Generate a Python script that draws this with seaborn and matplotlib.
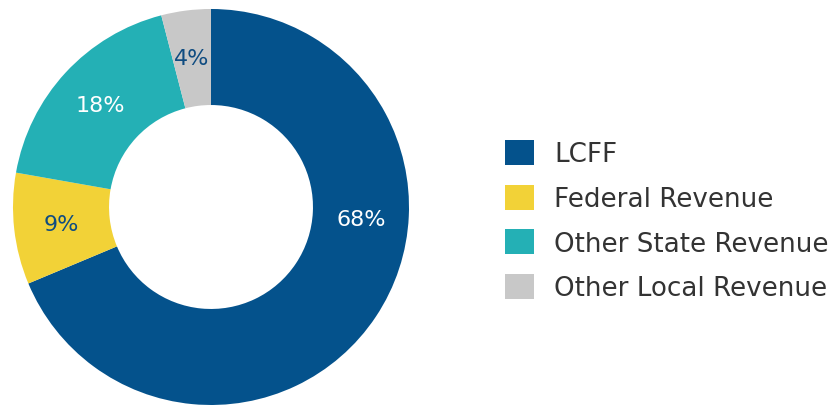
import numpy as np
import matplotlib
matplotlib.use("Agg")
import matplotlib.pyplot as plt
import seaborn as sns

# Revenue sources and their shares (percent)
categories = ["LCFF", "Federal Revenue", "Other State Revenue", "Other Local Revenue"]
shares = [68, 9, 18, 4]
colors = ["#04528C", "#F2D237", "#24B0B5", "#C8C8C8"]
label_colors = ["white", "#0F4C81", "white", "#0F4C81"]

sns.set_theme(style="white")
plt.rcParams["font.family"] = ["DejaVu Sans"]
palette = sns.color_palette(colors)

fig = plt.figure(figsize=(8.33, 4.06), dpi=100)
ax = fig.add_axes([0.0156, 0.0, 0.4754, 0.9754])

wedges, texts, autotexts = ax.pie(
    shares,
    colors=palette,
    startangle=90,
    counterclock=False,
    radius=1.0,
    wedgeprops=dict(width=0.485, edgecolor="none"),
    autopct=lambda p: f"{p * sum(shares) / 100:.0f}%",
    pctdistance=0.76,
    textprops=dict(fontsize=16),
)
for t, c in zip(autotexts, label_colors):
    t.set_color(c)

# The large LCFF label sits on the right side of its wedge
ang = np.deg2rad(-4.6)
autotexts[0].set_position((0.76 * np.cos(ang), 0.76 * np.sin(ang)))

ax.set_xlim(-1, 1)
ax.set_ylim(-1, 1)
ax.set_aspect("equal")
ax.axis("off")

leg = fig.legend(
    wedges, categories,
    loc="center left",
    bbox_to_anchor=(0.606, 0.454),
    frameon=False,
    fontsize=18.8,
    handlelength=1.1,
    handleheight=1.1,
    handletextpad=0.8,
    labelspacing=0.66,
    borderpad=0,
    borderaxespad=0,
)
for t in leg.get_texts():
    t.set_color("#333333")

fig.savefig("out.png", dpi=100, facecolor="white")
